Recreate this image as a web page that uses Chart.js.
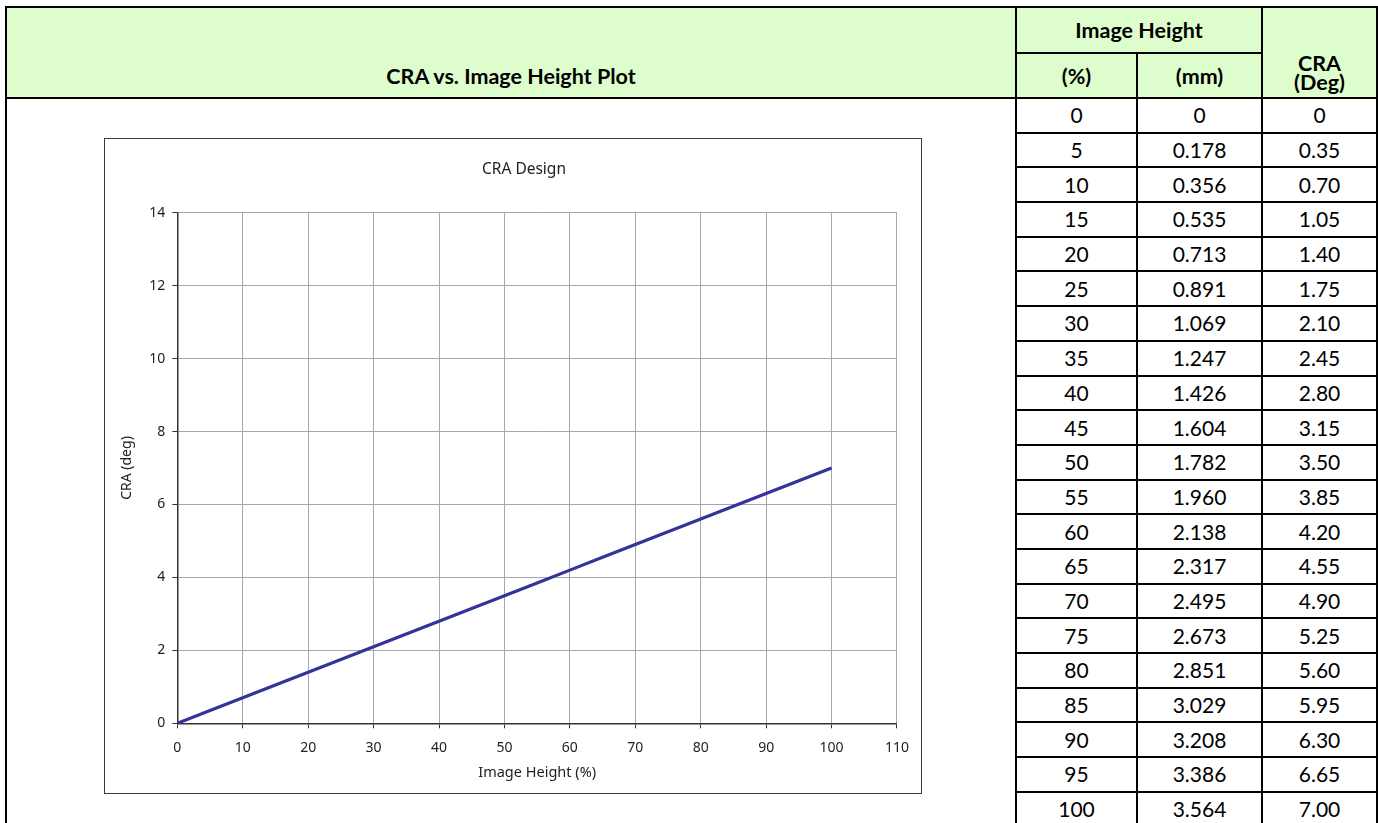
<!DOCTYPE html>
<html>
<head>
<meta charset="utf-8">
<script src="https://cdn.jsdelivr.net/npm/chart.js@4.4.0/dist/chart.umd.min.js"></script>
<style>
    html, body { margin: 0; padding: 0; background: #fff; }
    body { width: 1378px; height: 823px; position: relative; overflow: hidden; }
    #dataTable {
        position: absolute; left: 5px; top: 6px;
        border-collapse: collapse; table-layout: fixed;
        font-family: Lato, "Open Sans", sans-serif; font-size: 21px; color: #000;
    }
    #dataTable td, #dataTable th {
        border: 2px solid #000; padding: 0; text-align: center; vertical-align: middle;
        line-height: 22px;
    }
    #dataTable th { background: #ddfdcd; font-weight: bold; font-size: 21.5px; }
    #dataTable tbody tr { height: 34.7px; }
    #dataTable thead tr.top { height: 46px; }
    #dataTable thead tr.sub { height: 45px; }
    #plotHead { vertical-align: bottom !important; padding-bottom: 10px !important; }
    #craHead { vertical-align: bottom !important; padding-bottom: 5px !important; line-height: 19px !important; }
    #chartFrame {
        position: absolute; left: 104px; top: 138px; width: 818px; height: 656px;
        border: 1.5px solid #3a3a3a; box-sizing: border-box; background: #fff;
    }
    #craChart { position: absolute; left: 106px; top: 140px; }
</style>
</head>
<body>
<table id="dataTable">
    <colgroup>
        <col style="width:1010px">
        <col style="width:121px">
        <col style="width:125px">
        <col style="width:115px">
    </colgroup>
    <thead>
        <tr class="top">
            <th id="plotHead" rowspan="2">CRA vs. Image Height Plot</th>
            <th colspan="2">Image Height</th>
            <th id="craHead" rowspan="2">CRA<br>(Deg)</th>
        </tr>
        <tr class="sub">
            <th>(%)</th>
            <th>(mm)</th>
        </tr>
    </thead>
    <tbody></tbody>
</table>
<div id="chartFrame"></div>
<canvas id="craChart" width="814" height="652"></canvas>
<script>
const imageHeightPct = [0, 5, 10, 15, 20, 25, 30, 35, 40, 45, 50, 55, 60, 65, 70, 75, 80, 85, 90, 95, 100];
const imageHeightMm = ['0', '0.178', '0.356', '0.535', '0.713', '0.891', '1.069', '1.247', '1.426', '1.604',
    '1.782', '1.960', '2.138', '2.317', '2.495', '2.673', '2.851', '3.029', '3.208', '3.386', '3.564'];
const craDeg = ['0', '0.35', '0.70', '1.05', '1.40', '1.75', '2.10', '2.45', '2.80', '3.15',
    '3.50', '3.85', '4.20', '4.55', '4.90', '5.25', '5.60', '5.95', '6.30', '6.65', '7.00'];
const xTicks = [0, 10, 20, 30, 40, 50, 60, 70, 80, 90, 100, 110];
const yTicks = [0, 2, 4, 6, 8, 10, 12, 14];

// table rows
const tbody = document.querySelector('#dataTable tbody');
imageHeightPct.forEach(function (pct, i) {
    const row = document.createElement('tr');
    if (i === 0) {
        const chartCell = document.createElement('td');
        chartCell.rowSpan = imageHeightPct.length;
        row.appendChild(chartCell);
    }
    [String(pct), imageHeightMm[i], craDeg[i]].forEach(function (txt) {
        const cell = document.createElement('td');
        cell.textContent = txt;
        row.appendChild(cell);
    });
    tbody.appendChild(row);
});

const gridGray = '#a4a8ae';
const axisDark = '#333333';
const textColor = '#222222';

// title drawn at a fixed spot above the plot
const chartTitle = {
    id: 'chartTitle',
    afterDraw: function (chart) {
        const ctx = chart.ctx;
        ctx.save();
        ctx.font = '15.5px "Noto Sans"';
        ctx.fillStyle = textColor;
        ctx.textAlign = 'center';
        ctx.textBaseline = 'middle';
        ctx.fillText('CRA Design', 418, 30);
        ctx.restore();
    }
};

const ctx = document.getElementById('craChart').getContext('2d');
new Chart(ctx, {
    type: 'line',
    data: {
        datasets: [{
            label: 'CRA',
            data: imageHeightPct.map(function (p, i) { return { x: p, y: parseFloat(craDeg[i]) }; }),
            borderColor: '#333399',
            borderWidth: 3.2,
            pointRadius: 0,
            tension: 0,
            fill: false
        }]
    },
    options: {
        responsive: false,
        animation: false,
        devicePixelRatio: 1,
        layout: { padding: { top: 72.7, right: 16, left: 0, bottom: 0 } },
        plugins: {
            legend: { display: false },
            title: { display: false },
            tooltip: { enabled: false }
        },
        scales: {
            x: {
                type: 'linear',
                min: 0,
                max: 110,
                afterBuildTicks: function (s) { s.ticks = xTicks.map(function (v) { return { value: v }; }); },
                afterFit: function (s) { s.height = 68.7; },
                grid: { color: gridGray, tickColor: axisDark, tickLength: 5, lineWidth: 1 },
                border: { color: axisDark, width: 1.5 },
                ticks: { color: textColor, padding: 11, maxRotation: 0, font: { family: 'Noto Sans', size: 14 } },
                title: {
                    display: true, text: 'Image Height (%)', color: textColor,
                    font: { family: 'Noto Sans', size: 14.5 }, padding: { top: 0, bottom: 10 }
                }
            },
            y: {
                min: 0,
                max: 14,
                afterBuildTicks: function (s) { s.ticks = yTicks.map(function (v) { return { value: v }; }); },
                afterFit: function (s) { s.width = 71.3; },
                grid: { color: gridGray, tickColor: axisDark, tickLength: 5, lineWidth: 1 },
                border: { color: axisDark, width: 1.5 },
                ticks: { color: textColor, padding: 7, font: { family: 'Noto Sans', size: 14 } },
                title: {
                    display: true, text: 'CRA (deg)', color: textColor,
                    font: { family: 'Noto Sans', size: 14 }, padding: { top: 13, bottom: 0 }
                }
            }
        }
    },
    plugins: [chartTitle]
});
</script>
</body>
</html>
